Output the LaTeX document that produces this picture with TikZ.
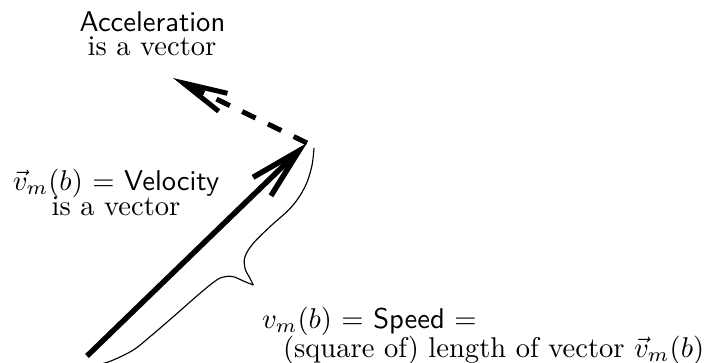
\documentclass[tikz,border=0pt]{standalone}
\usetikzlibrary{arrows.meta}
\begin{document}
\begin{tikzpicture}[x=0.35pt,y=-0.35pt,
  velarrow/.style={line width=1.9pt,-{Straight Barb[length=18pt,width=9pt]}},
  accarrow/.style={line width=1.75pt,dash pattern=on 5.2pt off 4.8pt,-{Straight Barb[length=15.5pt,width=7pt]}},
  bracecurve/.style={line width=0.4pt},
  lbl/.style={anchor=base,inner sep=0pt,outer sep=0pt},
  lbll/.style={anchor=base west,inner sep=0pt,outer sep=0pt}]
\useasboundingbox (0,0) rectangle (708,362);
\coordinate (vtail) at (87,356);
\coordinate (vtip) at (307,143);
\coordinate (atip) at (173,78);
\draw[velarrow] (vtail) -- (vtip);
\draw[accarrow] (vtip) -- (atip);
\draw[bracecurve] plot[smooth,tension=0.6] coordinates {(314,148) (311.7,166.7) (305,186.7) (291.7,206.7) (270,226.7) (253.3,243.3) (245,256.7) (245,268.3) (250,278.3) (253.3,285)};
\draw[bracecurve] plot[smooth,tension=0.6] coordinates {(253.3,285) (245,281.7) (233.3,276.7) (225,276.7) (216.7,280) (200,293.3) (173.3,316.7) (150,336.7) (133.3,350) (113.3,360) (103,363.5)};
\node[lbl] (acc1) at (152.5,31) {\textsf{Acceleration}};
\node[lbl] (acc2) at (152,55) {is a vector};
\node[lbl] (vel1) at (116,190) {$\vec{v}_m(b)$ $=$ \textsf{Velocity}};
\node[lbl] (vel2) at (116,215) {is a vector};
\node[lbll] (spd1) at (262,328) {$v_m(b)$ $=$ \textsf{Speed} $=$};
\node[lbll] (spd2) at (283,357) {(square of) length of vector $\vec{v}_m(b)$};
\end{tikzpicture}
\end{document}
